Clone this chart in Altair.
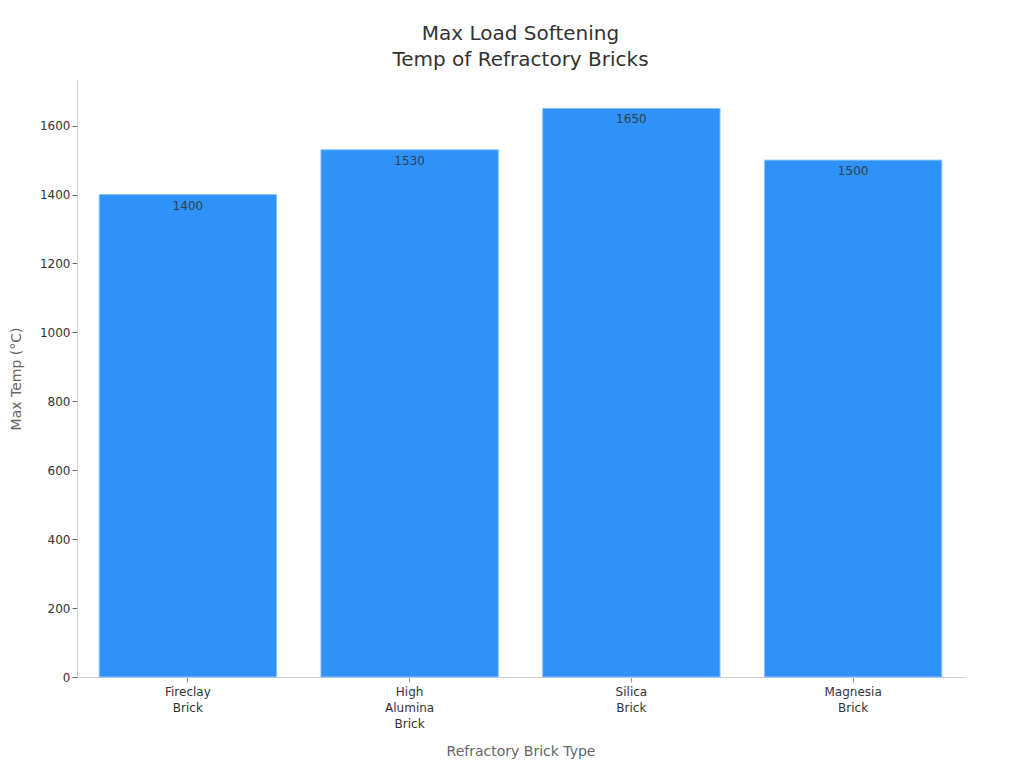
import altair as alt
import pandas as pd

categories = ["Fireclay Brick", "High Alumina Brick", "Silica Brick", "Magnesia Brick"]
values = [1400, 1530, 1650, 1500]

df = pd.DataFrame({"type": categories, "temp": values})

x = alt.X("type:N", sort=categories, title="Refractory Brick Type",
          scale=alt.Scale(paddingInner=0.2, paddingOuter=0.1),
          axis=alt.Axis(labelAngle=0, labelExpr="split(datum.label, ' ')",
                        labelFontSize=12, labelColor="#333", labelLineHeight=16,
                        titleFontSize=14, titleColor="#666", titleFontWeight="normal",
                        titlePadding=15, domainColor="#ccc", tickColor="#999", labelPadding=4))
y = alt.Y("temp:Q", title="Max Temp (°C)",
          scale=alt.Scale(domain=[0, 1732.5], nice=False),
          axis=alt.Axis(values=[0, 200, 400, 600, 800, 1000, 1200, 1400, 1600], format="d",
                        grid=False, labelFontSize=12, labelColor="#333",
                        titleFontSize=14, titleColor="#666", titleFontWeight="normal",
                        domainColor="#ccc", tickColor="#666", titlePadding=16))

bars = alt.Chart(df).mark_bar(color="#2f92f8", stroke="#8cc3fb", strokeWidth=1).encode(x=x, y=y)
text = alt.Chart(df).mark_text(baseline="top", dy=6, fontSize=12, color="#333", opacity=0.85).encode(
    x=alt.X("type:N", sort=categories), y="temp:Q", text="temp:Q")

chart = (bars + text).properties(
    width=887, height=597,
    padding={"top": 16, "left": 1, "right": 5, "bottom": 5},
    title=alt.TitleParams(["Max Load Softening", "Temp of Refractory Bricks"], fontSize=20,
                          lineHeight=26, font="DejaVu Sans", color="#333",
                          fontWeight="normal", anchor="middle", offset=10),
).configure(font="DejaVu Sans").configure_view(stroke=None).configure_axis(labelFont="DejaVu Sans", titleFont="DejaVu Sans")

chart.save("out.html", embed_options={"renderer": "svg", "actions": False})
